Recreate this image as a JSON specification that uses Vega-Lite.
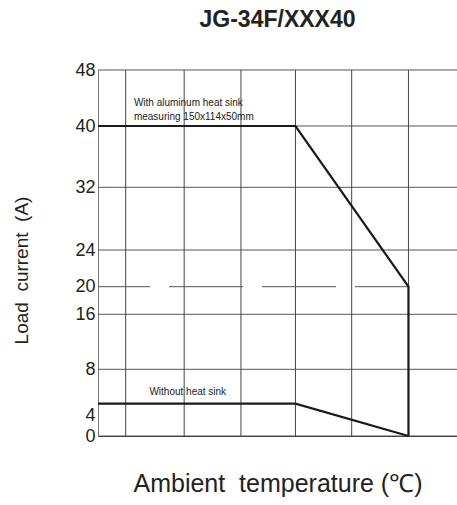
{
  "$schema": "https://vega.github.io/schema/vega-lite/v6.json",
  "width": 359,
  "height": 366,
  "autosize": {"type": "none"},
  "padding": {"left": 98, "top": 70, "right": 0, "bottom": 69},
  "background": "white",
  "config": {"view": {"stroke": null}, "font": "Liberation Sans"},
  "title": {"text": "JG-34F/XXX40", "fontSize": 23, "fontWeight": "bold", "color": "#222", "anchor": "middle", "frame": "group", "offset": 29},
  "datasets": {
    "curves": [
      {"series": "With heat sink", "i": 1, "temp": 0, "current": 40},
      {"series": "With heat sink", "i": 2, "temp": 6.99, "current": 40},
      {"series": "With heat sink", "i": 3, "temp": 10.99, "current": 20},
      {"series": "With heat sink", "i": 4, "temp": 10.99, "current": 0},
      {"series": "Without heat sink", "i": 1, "temp": 0, "current": 5},
      {"series": "Without heat sink", "i": 2, "temp": 6.99, "current": 5},
      {"series": "Without heat sink", "i": 3, "temp": 10.99, "current": 0}
    ],
    "hgrid": [{"current": 0}, {"current": 8}, {"current": 16}, {"current": 24}, {"current": 32}, {"current": 40}, {"current": 48}],
    "vgrid": [{"temp": 0.98}, {"temp": 3.05}, {"temp": 5.06}, {"temp": 6.99}, {"temp": 8.98}, {"temp": 10.99}],
    "dash": [{"temp": 0, "temp2": 10.99, "current": 20}],
    "notes": [
      {"temp": 1.27, "current": 43.3, "label": "With aluminum heat sink"},
      {"temp": 1.27, "current": 41.3, "label": "measuring 150x114x50mm"},
      {"temp": 1.82, "current": 6.04, "label": "Without heat sink"}
    ]
  },
  "encoding": {
    "y": {
      "field": "current", "type": "quantitative",
      "scale": {"domain": [0, 4, 8, 16, 20, 24, 32, 40, 48], "range": [366, 345, 299.3, 244.3, 216.7, 180, 117.3, 56, 0], "nice": false, "zero": false},
      "axis": {"values": [0, 4, 8, 16, 20, 24, 32, 40, 48], "ticks": false, "grid": false, "domain": true, "domainColor": "#777", "labelFontSize": 18, "labelColor": "#222", "labelPadding": 3, "labelOverlap": false, "labelFont": "Liberation Sans", "title": "Load\u00a0 current\u00a0 (A)", "titleFontSize": 19, "titleFontWeight": "normal", "titleColor": "#222", "titleFont": "Liberation Sans", "titleX": -77, "titleY": 200, "titleAngle": 270, "titleBaseline": "middle", "titleAlign": "center"}
    },
    "x": {
      "field": "temp", "type": "quantitative",
      "scale": {"domain": [0, 12.708], "nice": false, "zero": false},
      "axis": {"ticks": false, "labels": false, "grid": false, "domain": true, "domainColor": "#333", "title": "Ambient\u00a0 temperature (℃)", "titleFontSize": 25, "titleFontWeight": "normal", "titleColor": "#222", "titleFont": "Liberation Sans", "titleY": 47, "titleBaseline": "middle"}
    }
  },
  "layer": [
    {
      "data": {"name": "hgrid"},
      "mark": {"type": "rule", "color": "#555", "strokeWidth": 1},
      "encoding": {"x": null}
    },
    {
      "data": {"name": "vgrid"},
      "mark": {"type": "rule", "color": "#444", "strokeWidth": 1},
      "encoding": {"y": null}
    },
    {
      "data": {"name": "dash"},
      "mark": {"type": "rule", "color": "#555", "strokeWidth": 1, "strokeDash": [74, 19], "strokeDashOffset": 22},
      "encoding": {
        "x2": {"field": "temp2"}
      }
    },
    {
      "data": {"name": "curves"},
      "mark": {"type": "line", "color": "#1a1a1a", "strokeWidth": 2.2, "strokeJoin": "miter"},
      "encoding": {
        "detail": {"field": "series"},
        "order": {"field": "i"}
      }
    },
    {
      "data": {"name": "notes"},
      "mark": {"type": "text", "align": "left", "baseline": "middle", "fontSize": 10, "color": "#222", "font": "Liberation Sans"},
      "encoding": {
        "text": {"field": "label"}
      }
    }
  ]
}
